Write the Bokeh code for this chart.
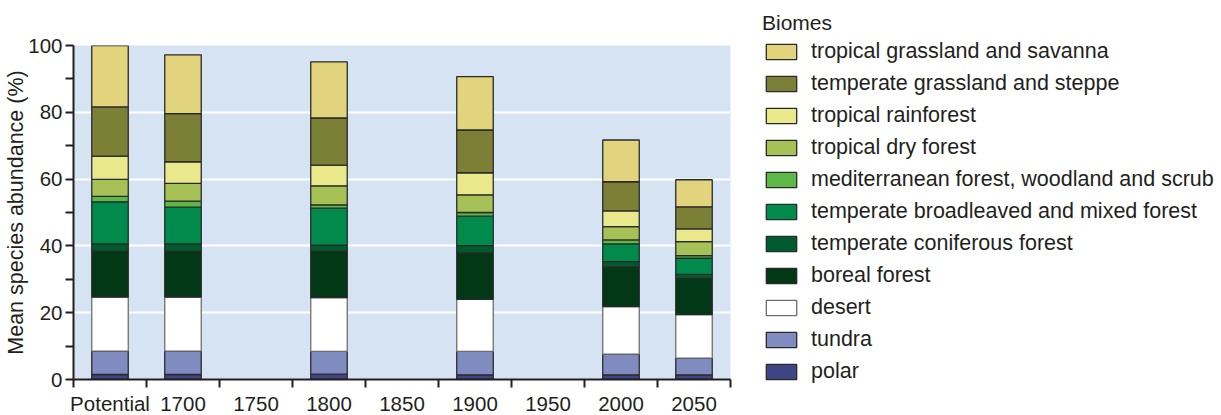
from bokeh.plotting import figure
from bokeh.models import Range1d, FixedTicker, Legend, LegendItem, ColumnDataSource
from bokeh.embed import file_html
from bokeh.resources import INLINE

periods = ["Potential", "1700", "1750", "1800", "1850", "1900", "1950", "2000", "2050"]
bar_periods = ["Potential", "1700", "1800", "1900", "2000", "2050"]

# stacking order, bottom to top
biomes = ["polar", "tundra", "desert", "boreal forest", "temperate coniferous forest",
          "temperate broadleaved and mixed forest", "mediterranean forest, woodland and scrub",
          "tropical dry forest", "tropical rainforest", "temperate grassland and steppe",
          "tropical grassland and savanna"]

polar = [1.5, 1.5, 1.6, 1.4, 1.4, 1.4]
tundra = [7.0, 7.0, 6.8, 7.0, 6.2, 5.0]
desert = [16.2, 16.2, 16.1, 15.6, 14.2, 13.0]
boreal = [13.7, 13.7, 13.9, 13.9, 11.9, 10.9]
coniferous = [2.2, 2.2, 1.8, 2.2, 1.6, 1.2]
broadleaved = [12.6, 11.0, 11.1, 8.8, 5.3, 4.8]
mediterranean = [1.6, 1.8, 1.0, 1.1, 1.2, 0.8]
dry_forest = [5.1, 5.3, 5.7, 5.3, 4.0, 4.2]
rainforest = [7.0, 6.5, 6.2, 6.6, 4.7, 3.8]
temp_grass = [14.7, 14.4, 14.1, 12.8, 8.7, 6.6]
trop_grass = [18.4, 17.6, 16.8, 16.0, 12.5, 8.1]

colors = ["#3f4484", "#808bc0", "#ffffff", "#023816", "#005c2f", "#008a4b",
          "#5cb947", "#a6c257", "#e9e98b", "#7c8036", "#e1d47c"]
line_colors = ["#2a2a2a", "#2a2a2a", "#6e6e6e", "#2a2a2a", "#2a2a2a", "#2a2a2a",
               "#2a2a2a", "#2a2a2a", "#2a2a2a", "#2a2a2a", "#2a2a2a"]

keys = ["polar", "tundra", "desert", "boreal", "coniferous", "broadleaved",
        "mediterranean", "dry_forest", "rainforest", "temp_grass", "trop_grass"]
series = [polar, tundra, desert, boreal, coniferous, broadleaved,
          mediterranean, dry_forest, rainforest, temp_grass, trop_grass]

data = {"x": [periods.index(b) + 0.5 for b in bar_periods]}
for k, s in zip(keys, series):
    data[k] = s
source = ColumnDataSource(data)

TEXT = "#231f20"
FONT = "Liberation Sans"

p = figure(frame_width=657, frame_height=334,
           x_range=Range1d(0, len(periods)), y_range=Range1d(0, 100),
           output_backend="svg", toolbar_location=None,
           min_border_left=73, min_border_right=0, min_border_top=45, min_border_bottom=36)
p.background_fill_color = "#d5e3f3"
p.border_fill_color = "white"
p.outline_line_color = None

renderers = p.vbar_stack(keys, x="x", width=0.5, source=source,
                         fill_color=colors, line_color=line_colors, line_width=1.3)

# axes
p.xgrid.visible = False
p.ygrid.ticker = FixedTicker(ticks=[20, 40, 60, 80])
p.ygrid.grid_line_color = "white"
p.ygrid.grid_line_width = 2

yax = p.yaxis[0]
yax.ticker = FixedTicker(ticks=[0, 20, 40, 60, 80, 100], minor_ticks=[10, 30, 50, 70, 90])
yax.axis_label = "Mean species abundance (%)"
yax.axis_label_text_font = FONT
yax.axis_label_text_font_size = "21.5px"
yax.axis_label_text_font_style = "normal"
yax.axis_label_text_color = TEXT
yax.axis_label_standoff = -3
yax.major_label_text_font = FONT
yax.major_label_text_font_size = "20.5px"
yax.major_label_text_color = TEXT
yax.major_label_standoff = 3
yax.major_tick_out = 8
yax.major_tick_in = 0
yax.minor_tick_out = 8
yax.minor_tick_in = 0
yax.major_tick_line_width = 2
yax.minor_tick_line_width = 2
yax.axis_line_width = 2
yax.axis_line_color = TEXT
yax.major_tick_line_color = TEXT
yax.minor_tick_line_color = TEXT

xax = p.xaxis[0]
centers = [i + 0.5 for i in range(len(periods))]
xax.ticker = FixedTicker(ticks=centers, minor_ticks=list(range(len(periods) + 1)))
xax.major_label_overrides = {c: lab for c, lab in zip(centers, periods)}
xax.major_label_text_font = FONT
xax.major_label_text_font_size = "20.5px"
xax.major_label_text_color = TEXT
xax.major_label_standoff = 4
xax.major_tick_out = 0
xax.major_tick_in = 0
xax.minor_tick_out = 8
xax.minor_tick_in = 0
xax.minor_tick_line_width = 2
xax.minor_tick_line_color = TEXT
xax.axis_line_width = 2
xax.axis_line_color = TEXT

items = [LegendItem(label=name, renderers=[r]) for name, r in zip(biomes, renderers)]
items.reverse()
legend = Legend(items=items, location=(32, -5), title="Biomes",
                title_text_font=FONT, title_text_font_size="21px", title_text_font_style="normal",
                title_text_color=TEXT, title_standoff=4,
                label_text_font=FONT, label_text_font_size="21.5px", label_text_color=TEXT,
                glyph_width=38, glyph_height=19, label_height=19, label_standoff=11,
                spacing=7, padding=0, margin=0,
                border_line_color=None, background_fill_alpha=0)
p.add_layout(legend, "right")

open("out.html", "w").write(file_html(p, INLINE))
